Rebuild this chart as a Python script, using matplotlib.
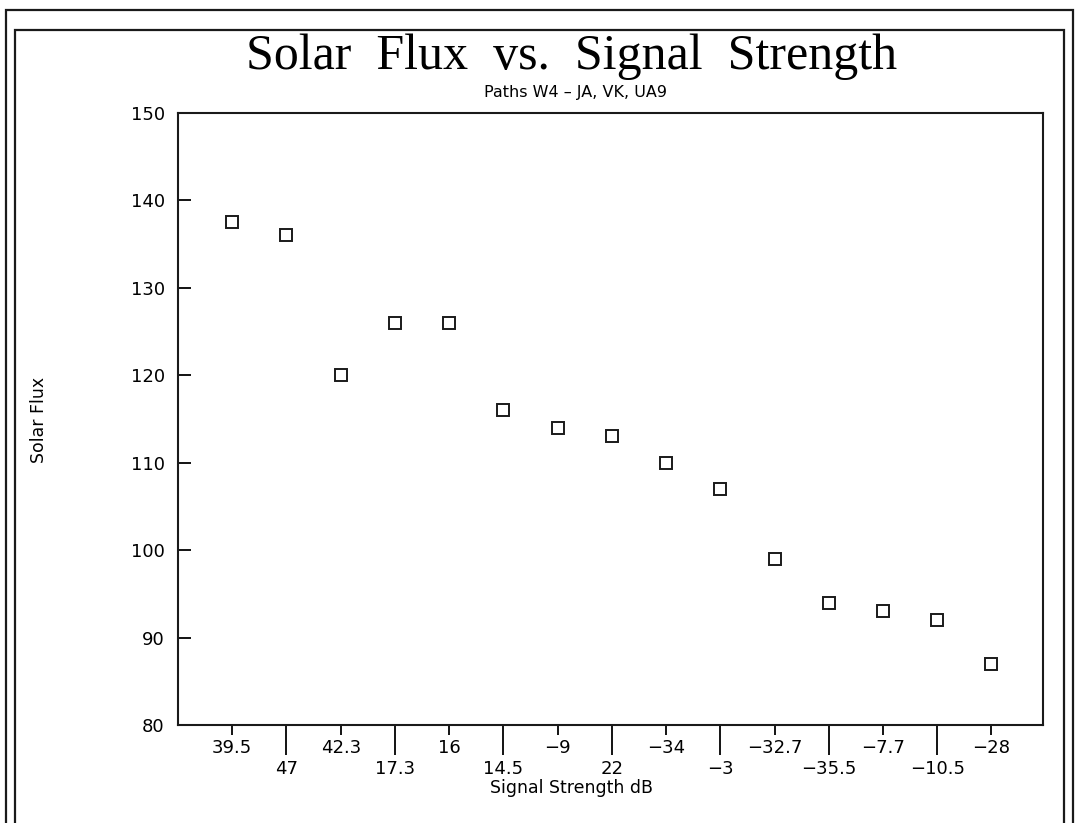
import numpy as np
import matplotlib
matplotlib.use("Agg")
from matplotlib import pyplot as plt
from matplotlib.patches import Rectangle

# datos
senal_db = [39.5, 47, 42.3, 17.3, 16, 14.5, -9, 22, -34, -3, -32.7, -35.5, -7.7, -10.5, -28]
flujo_solar = [137.5, 136, 120, 126, 126, 116, 114, 113, 110, 107, 99, 94, 93, 92, 87]
y_ticks = [80, 90, 100, 110, 120, 130, 140, 150]

W, H = 1082, 823
fig = plt.figure(figsize=(W / 100, H / 100), dpi=100)

# marcos dobles alrededor de la figura (el borde inferior queda fuera)
for x0, y0, x1 in [(6, 10, 1073), (15, 30, 1064)]:
    fig.patches.append(Rectangle((x0 / W, -0.2), (x1 - x0) / W, 1.2 - y0 / H,
                                 transform=fig.transFigure, fill=False,
                                 lw=1.6, ec="#1a1a1a"))

ax = fig.add_axes([178 / W, 1 - 725 / H, (1043 - 178) / W, (725 - 113) / H])

pos = np.arange(1, len(senal_db) + 1)
ax.plot(pos, flujo_solar, ls="none", marker="s", ms=8, mfc="white",
        mec="#1a1a1a", mew=1.4)

ax.set_xlim(0, 15.95)
ax.set_ylim(80, 150)

# etiquetas alternadas: fila de arriba (ticks cortos) y fila de abajo (ticks largos)
etiquetas = [f"{v:g}".replace("-", "\u2212") for v in senal_db]
ax.set_xticks(pos[0::2])
ax.set_xticklabels(etiquetas[0::2])
ax.set_xticks(pos[1::2], minor=True)
ax.set_xticklabels(etiquetas[1::2], minor=True)
ax.tick_params(axis="x", which="major", direction="out", length=7.5, width=1.3,
               pad=2.5, labelsize=13)
ax.tick_params(axis="x", which="minor", direction="out", length=21.5, width=1.3,
               pad=3.5, labelsize=13)

ax.set_yticks(y_ticks)
ax.tick_params(axis="y", direction="in", length=9, width=1.3, pad=9.5, labelsize=13)

for s in ax.spines.values():
    s.set_linewidth(1.5)
    s.set_color("#1a1a1a")

fig.text(572 / W, 1 - 57 / H, "Solar  Flux  vs.  Signal  Strength",
         family="Liberation Serif", fontsize=36, ha="center", va="center")
fig.text(576 / W, 1 - 92 / H, "Paths W4 \u2013 JA, VK, UA9",
         fontsize=11.5, ha="center", va="center")
fig.text(39 / W, 1 - 420 / H, "Solar Flux", rotation=90, fontsize=12.5,
         ha="center", va="center")
fig.text(571 / W, 1 - 788 / H, "Signal Strength dB", fontsize=12.5,
         ha="center", va="center")

fig.savefig("out.png", dpi=100)
